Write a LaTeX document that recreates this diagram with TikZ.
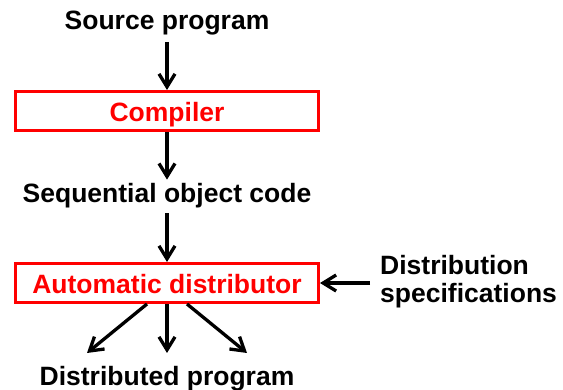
\documentclass[tikz,border=0pt]{standalone}
\usepackage{fontspec}
\setmainfont{Liberation Sans}
\usetikzlibrary{arrows.meta}
\begin{document}
\begin{tikzpicture}[x=1pt,y=-1pt,
  txt/.style={font=\fontsize{26.5}{28}\selectfont\bfseries, inner sep=0pt},
  box/.style={draw=red, line width=3.3pt, text=red, minimum width=302.7pt,
    minimum height=38.7pt, inner sep=0pt, text height=24pt, text depth=2pt,
    font=\fontsize{26.5}{28}\selectfont\bfseries},
  arr/.style={line width=3.3pt, -{Straight Barb[length=13pt,width=16pt]}}]
\useasboundingbox (0,0) rectangle (563,390);
\node[txt, anchor=base] (src) at (167,30) {Source program};
\node[box] (comp) at (167,111) {Compiler};
\node[txt, anchor=base] (seq) at (167,203) {Sequential object code};
\node[box] (ad) at (167,283) {Automatic distributor};
\node[txt, anchor=west, align=left] (spec) at (380,282) {Distribution\\specifications};
\node[txt, anchor=base] (dist) at (167,385) {Distributed program};
\coordinate (d1) at (87,353);
\coordinate (d2) at (167,353);
\coordinate (d3) at (247,353);
\draw[arr, shorten <=6pt] (src.south) -- (comp.north);
\draw[arr, shorten >=4pt] (comp.south) -- (seq.north);
\draw[arr, shorten <=4.5pt] (seq.south) -- (ad.north);
\draw[arr, shorten <=10pt] (ad.east -| spec.west) -- (ad.east);
\draw[arr] ([xshift=-20pt]ad.south) -- (d1);
\draw[arr] (ad.south) -- (d2);
\draw[arr] ([xshift=20pt]ad.south) -- (d3);
\end{tikzpicture}
\end{document}
